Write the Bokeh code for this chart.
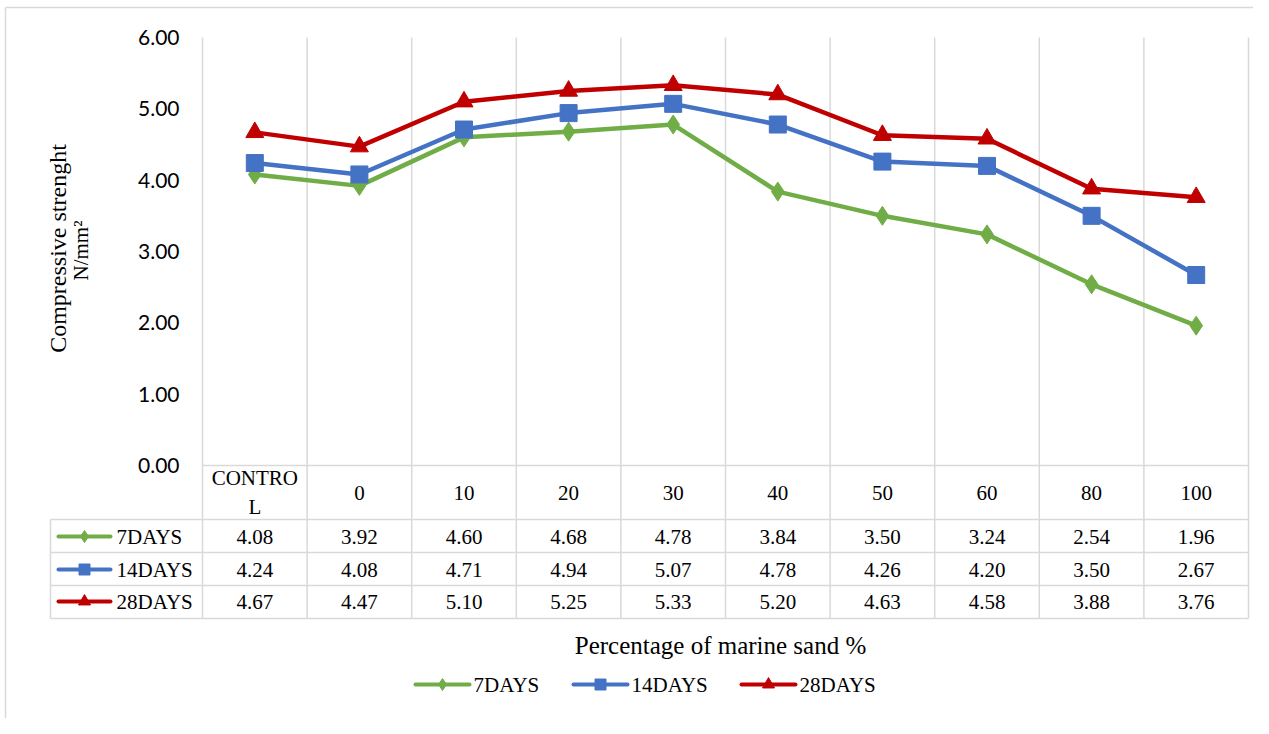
import math
from bokeh.plotting import figure
from bokeh.models import ColumnDataSource
from bokeh.core.properties import value
from bokeh.embed import file_html
from bokeh.resources import INLINE

# ---------------- data ----------------
categories = ["CONTRO\nL", "0", "10", "20", "30", "40", "50", "60", "80", "100"]
series_names = ["7DAYS", "14DAYS", "28DAYS"]
days7 = [4.08, 3.92, 4.60, 4.68, 4.78, 3.84, 3.50, 3.24, 2.54, 1.96]
days14 = [4.24, 4.08, 4.71, 4.94, 5.07, 4.78, 4.26, 4.20, 3.50, 2.67]
days28 = [4.67, 4.47, 5.10, 5.25, 5.33, 5.20, 4.63, 4.58, 3.88, 3.76]
y_ticks = [0, 1, 2, 3, 4, 5, 6]
x_title = "Percentage of marine sand %"
y_title_1 = "Compressive strenght"
y_title_2 = "N/mm\u00b2"

# ---------------- styles / layout ----------------
colors = ["#70AD47", "#4472C4", "#C00000"]
markers = ["diamond", "square", "triangle"]
msizes = [19, 17, 18]
key_sizes = [12, 11, 12]
GRID = "#D9D9D9"
SERIF = value("Liberation Serif")
SANS = value("Lato")

W, H = 1253, 718
# pixel geometry (image coords) -> data coords
PX0, CW = 202.0, 104.6      # x of first category boundary, category width
PY0, RH = 465.0, 71.333     # y of value 0, px per unit


def dx(px):
    return (px - PX0) / CW


def dy(py):
    return (PY0 - py) / RH


n = len(categories)
p = figure(width=W, height=H, output_backend="svg", toolbar_location=None,
           x_range=(dx(0), dx(W)), y_range=(dy(H), dy(0)),
           x_axis_type=None, y_axis_type=None, min_border=0,
           background_fill_color="white", border_fill_color="white",
           outline_line_color=None)
p.xgrid.visible = False
p.ygrid.visible = False

# outer chart border (left and top visible)
p.segment(x0=[dx(5), dx(5)], y0=[dy(7), dy(7)], x1=[dx(5), dx(W + 10)],
          y1=[dy(H + 10), dy(7)], line_color=GRID, line_width=1.5)

xc = [i + 0.5 for i in range(n)]
table_left = dx(50)
row_lines = [dy(519), dy(552), dy(585), dy(618)]
table_bottom = row_lines[-1]

# vertical gridlines / table column lines
p.segment(x0=list(range(n + 1)), y0=[max(y_ticks)] * (n + 1),
          x1=list(range(n + 1)), y1=[table_bottom] * (n + 1),
          line_color=GRID, line_width=1.5)
# horizontal line at 0
p.segment(x0=[0], y0=[0], x1=[n], y1=[0], line_color=GRID, line_width=1.5)
# row lines of the table
p.segment(x0=[table_left] * len(row_lines), y0=row_lines,
          x1=[n] * len(row_lines), y1=row_lines, line_color=GRID, line_width=1.5)
p.segment(x0=[table_left], y0=[row_lines[0]], x1=[table_left], y1=[table_bottom],
          line_color=GRID, line_width=1.5)

# y tick labels
p.text(x=[dx(179)] * len(y_ticks), y=y_ticks, text=["%.2f" % t for t in y_ticks],
       text_font=SANS, text_font_size="21px", text_color="#000000",
       text_align="right", text_baseline="middle")

# series lines
all_series = [days7, days14, days28]
for vals, c, m, s in zip(all_series, colors, markers, msizes):
    src = ColumnDataSource(dict(x=xc, y=vals))
    p.line("x", "y", source=src, line_color=c, line_width=4.5)
    p.scatter("x", "y", source=src, marker=m, size=s, fill_color=c, line_color=c)

# category row
p.text(x=xc, y=[dy(492)] * n, text=categories, text_font=SERIF,
       text_font_size="21px", text_color="#000000", text_align="center",
       text_baseline="middle", text_line_height=1.2)

# table rows
row_centers = [dy(536), dy(569), dy(601)]
for vals, c, m, s, name, yc in zip(all_series, colors, markers, key_sizes,
                                   series_names, row_centers):
    p.text(x=xc, y=[yc] * n, text=["%.2f" % v for v in vals], text_font=SERIF,
           text_font_size="21px", text_color="#000000", text_align="center",
           text_baseline="middle")
    p.segment(x0=[dx(58)], y0=[yc], x1=[dx(110)], y1=[yc], line_color=c,
              line_width=4, line_cap="round")
    p.scatter(x=[dx(84)], y=[yc], marker=m, size=s, fill_color=c, line_color=c)
    p.text(x=[dx(116)], y=[yc], text=[name], text_font=SERIF,
           text_font_size="21px", text_color="#000000", text_align="left",
           text_baseline="middle")

# x axis title
p.text(x=[dx(720)], y=[dy(645)], text=[x_title], text_font=SERIF,
       text_font_size="25px", text_color="#000000", text_align="center",
       text_baseline="middle")

# y axis title (two lines)
p.text(x=[dx(57)], y=[dy(248)], text=[y_title_1], text_font=SERIF,
       text_font_size="24px", text_color="#000000", text_align="center",
       text_baseline="middle", angle=math.pi / 2)
p.text(x=[dx(80)], y=[dy(250)], text=[y_title_2], text_font=SERIF,
       text_font_size="21px", text_color="#000000", text_align="center",
       text_baseline="middle", angle=math.pi / 2)

# bottom legend
leg_starts = [415, 573, 741]
for name, c, m, s, lx in zip(series_names, colors, markers, key_sizes, leg_starts):
    ly = dy(684)
    p.segment(x0=[dx(lx)], y0=[ly], x1=[dx(lx + 54)], y1=[ly], line_color=c,
              line_width=4, line_cap="round")
    p.scatter(x=[dx(lx + 27)], y=[ly], marker=m, size=s, fill_color=c, line_color=c)
    p.text(x=[dx(lx + 58)], y=[ly], text=[name], text_font=SERIF,
           text_font_size="21px", text_color="#000000", text_align="left",
           text_baseline="middle")

open("out.html", "w").write(file_html(p, INLINE))
